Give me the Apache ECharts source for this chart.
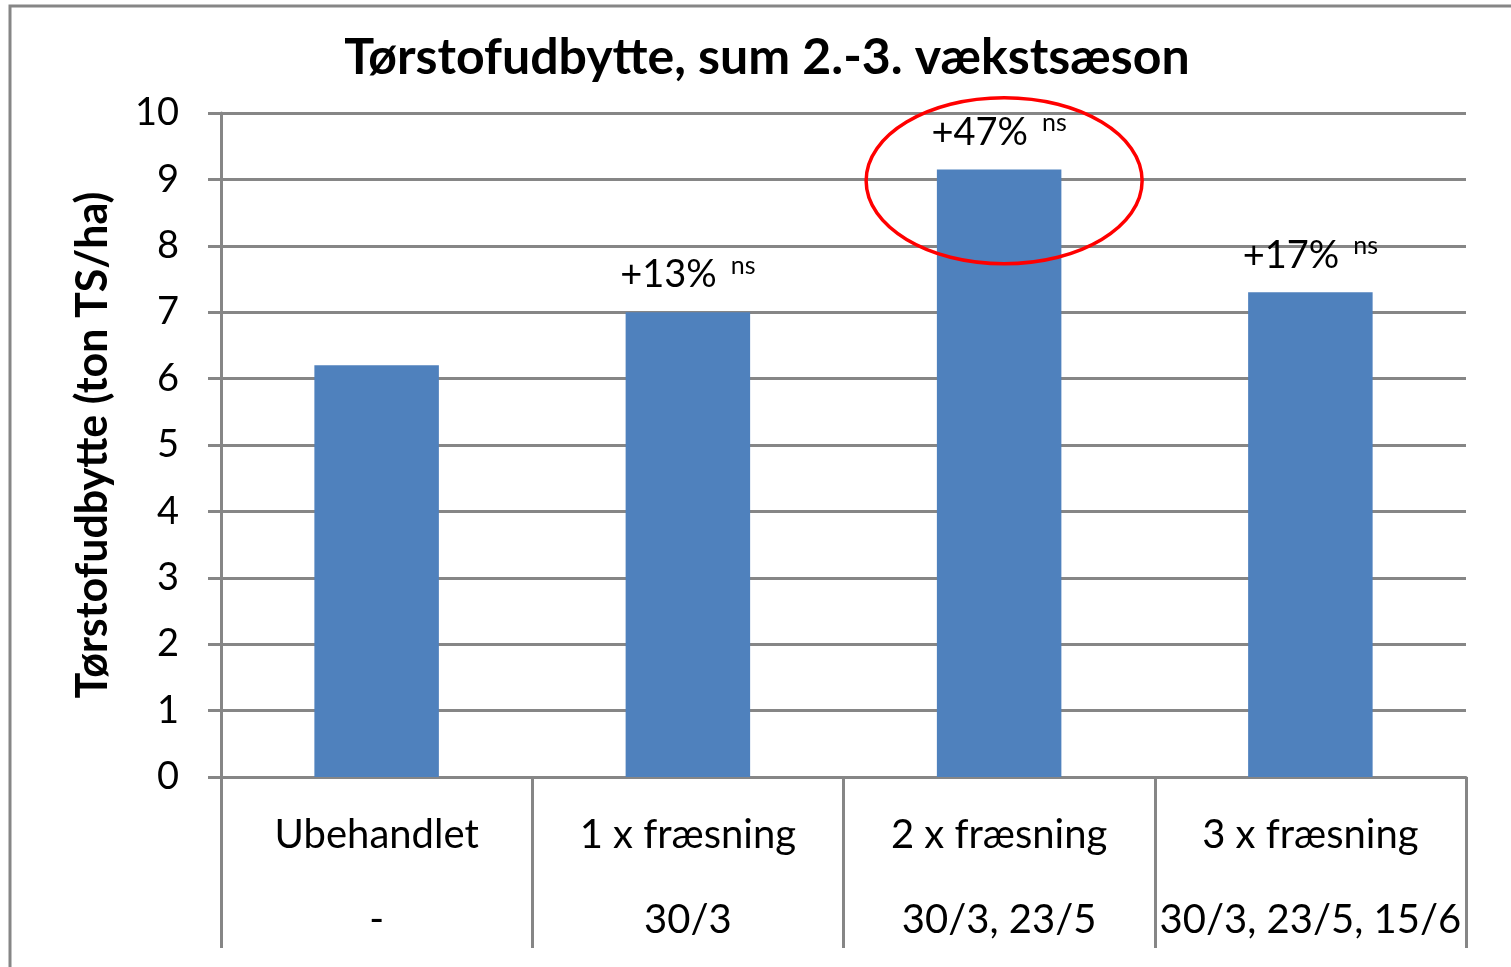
<!DOCTYPE html>
<html>
<head>
<meta charset="utf-8">
<script src="https://cdn.jsdelivr.net/npm/echarts@6/dist/echarts.min.js"></script>
<style>
  html, body { margin: 0; padding: 0; background: #fff; }
  #chart { width: 1511px; height: 967px; }
</style>
</head>
<body>
<div id="chart"></div>
<script>
var treatments = ['Ubehandlet', '1 x fræsning', '2 x fræsning', '3 x fræsning'];
var dates = ['-', '30/3', '30/3, 23/5', '30/3, 23/5, 15/6'];
var yields = [6.2, 7.0, 9.15, 7.3];
var increases = ['', '+13%', '+47%', '+17%'];
var signif = ['', 'ns', 'ns', 'ns'];
var highlight = { index: 2, value: 8.98 };

var font = 'Lato';
var gray = '#868686';

var chart = echarts.init(document.getElementById('chart'));

var categories = treatments.map(function(t, i) {
	return t + '\n' + dates[i];
});

var option = {
	animation: false,
	textStyle: { fontFamily: font },
	title: {
		text: 'Tørstofudbytte, sum 2.-3. vækstsæson',
		left: 762,
		top: 28,
		textAlign: 'center',
		textStyle: { fontSize: 50, fontWeight: 'bold', color: '#000', fontFamily: font }
	},
	grid: { left: 221, right: 45, top: 113, bottom: 190 },
	xAxis: {
		type: 'category',
		data: categories,
		axisLine: { lineStyle: { color: gray, width: 3 } },
		axisTick: { show: true, length: 171, lineStyle: { color: gray, width: 3 } },
		axisLabel: {
			margin: 16,
			color: '#000',
			fontSize: 40,
			lineHeight: 85,
			fontFamily: font,
			interval: 0
		}
	},
	yAxis: {
		type: 'value',
		min: 0,
		max: 10,
		interval: 1,
		name: 'Tørstofudbytte (ton TS/ha)',
		nameLocation: 'middle',
		nameGap: 106,
		nameTextStyle: { fontSize: 43, fontWeight: 'bold', color: '#000', fontFamily: font },
		axisLine: { show: true, lineStyle: { color: gray, width: 3 } },
		axisTick: { show: true, inside: false, length: 13, lineStyle: { color: gray, width: 3 } },
		axisLabel: { margin: 42, color: '#000', fontSize: 38, fontFamily: font },
		splitLine: { lineStyle: { color: gray, width: 3 } }
	},
	series: [{
		type: 'bar',
		data: yields,
		barWidth: '40%',
		itemStyle: { color: '#4F81BD' },
		label: {
			show: true,
			position: 'top',
			distance: 15,
			formatter: function(p) {
				if (!increases[p.dataIndex]) return '';
				return '{a|' + increases[p.dataIndex] + '}{b|' + signif[p.dataIndex] + '}';
			},
			rich: {
				a: { fontSize: 38, color: '#000', fontFamily: font, lineHeight: 44 },
				b: { fontSize: 25, color: '#000', fontFamily: font, verticalAlign: 'top', lineHeight: 44, padding: [0, 0, 0, 14] }
			}
		}
	}]
};

chart.setOption(option);

// red ring drawn round the 2 x fræsning bar, slightly right of its centre as in the original
var c = chart.convertToPixel({ gridIndex: 0 }, [highlight.index, highlight.value]);
chart.setOption({
	graphic: [
		{
			type: 'rect',
			silent: true,
			shape: { x: 10, y: 6, width: 1530, height: 990 },
			style: { fill: 'none', stroke: gray, lineWidth: 3 }
		},
		{
			type: 'ellipse',
			silent: true,
			z: 100,
			shape: { cx: c[0] + 5, cy: c[1], rx: 138, ry: 83 },
			style: { fill: 'none', stroke: '#ff0000', lineWidth: 3.5 }
		}
	]
});
</script>
</body>
</html>
